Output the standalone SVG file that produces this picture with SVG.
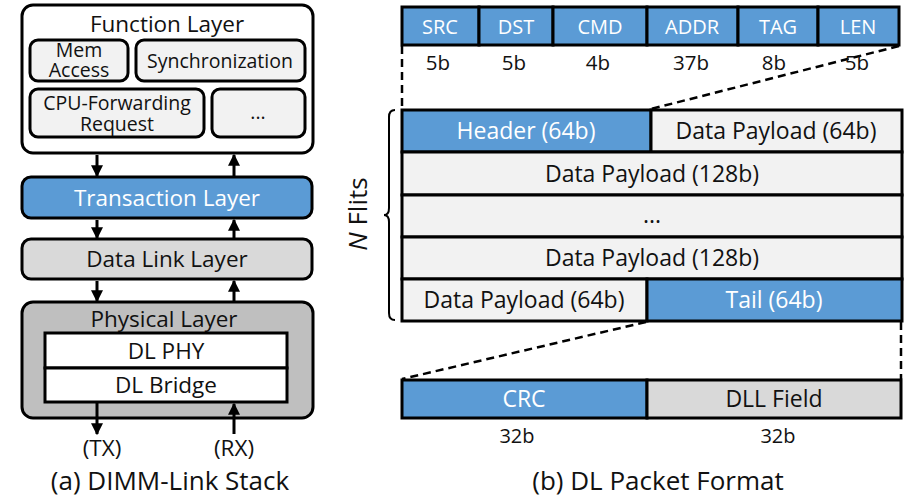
<svg xmlns="http://www.w3.org/2000/svg" width="909" height="499" viewBox="0 0 909 499">
  <defs>
    <marker id="ah" viewBox="0 0 10 10" refX="9" refY="5" markerWidth="4" markerHeight="4" orient="auto" markerUnits="strokeWidth">
      <path d="M0,0 L10,5 L0,10 Z" fill="#000"/>
    </marker>
  </defs>
  <style>
    text { font-family: "Open Sans", "Liberation Sans", sans-serif; fill: #111; text-anchor: middle; }
    .wt { fill: #fff; }
    .blue { fill: #5B9BD5; }
    .lite { fill: #F2F2F2; }
    .mid { fill: #D9D9D9; }
    .box { stroke: #000; stroke-width: 3; }
    .cell { stroke: #000; stroke-width: 3; }
    .arrow { stroke: #000; stroke-width: 3; fill: none; marker-end: url(#ah); }
    .dash { stroke: #000; stroke-width: 2.5; fill: none; stroke-dasharray: 8 5; }
    .sub { font-size: 19.5px; }
    .lay { font-size: 22.5px; }
    .fld { font-size: 20px; }
    .bits { font-size: 20.5px; }
    .pk { font-size: 23px; }
    .cap { font-size: 26px; }
  </style>
  <rect width="909" height="499" fill="#fff"/>

  <!-- (a) protocol stack -->
  <g id="function-layer">
    <rect x="22" y="5" width="291" height="148" rx="11" fill="#fff" class="box" stroke-width="3.5"/>
    <text x="167" y="32" class="lay">Function Layer</text>
  </g>
  <g id="mem-access">
    <rect x="30" y="40" width="98" height="41" rx="8" class="lite box"/>
    <text x="79" y="57" class="sub">Mem</text>
    <text x="79" y="77" class="sub">Access</text>
  </g>
  <g id="synchronization">
    <rect x="136" y="40" width="169" height="41" rx="8" class="lite box"/>
    <text x="220" y="68" class="sub">Synchronization</text>
  </g>
  <g id="cpu-forwarding">
    <rect x="30" y="89" width="174" height="48" rx="8" class="lite box"/>
    <text x="117" y="110" class="sub">CPU-Forwarding</text>
    <text x="117" y="131" class="sub">Request</text>
  </g>
  <g id="more-functions">
    <rect x="212" y="89" width="93" height="48" rx="8" class="lite box"/>
    <text x="258" y="119" class="sub">...</text>
  </g>
  <g id="transaction-layer">
    <rect x="22" y="177" width="290" height="41" rx="9" class="blue box"/>
    <text x="167" y="206" class="lay wt">Transaction Layer</text>
  </g>
  <g id="data-link-layer">
    <rect x="22" y="239" width="290" height="40" rx="9" class="mid box"/>
    <text x="167" y="267" class="lay">Data Link Layer</text>
  </g>
  <g id="physical-layer">
    <rect x="22" y="302" width="291" height="116" rx="11" fill="#BFBFBF" class="box" stroke-width="3.5"/>
    <text x="164" y="327" class="lay">Physical Layer</text>
  </g>
  <g id="dl-phy">
    <rect x="45" y="333" width="242" height="35" fill="#fff" class="box"/>
    <text x="166" y="359" class="lay">DL PHY</text>
  </g>
  <g id="dl-bridge">
    <rect x="45" y="368" width="242" height="34" fill="#fff" class="box"/>
    <text x="166" y="393" class="lay">DL Bridge</text>
  </g>
  <g id="tx-label"><text x="102" y="456" class="lay">(TX)</text></g>
  <g id="rx-label"><text x="234" y="456" class="lay">(RX)</text></g>

  <g id="connectors">
    <line x1="97" y1="155" x2="97" y2="176" class="arrow"/>
    <line x1="234" y1="176" x2="234" y2="155" class="arrow"/>
    <line x1="97" y1="220" x2="97" y2="238" class="arrow"/>
    <line x1="234" y1="238" x2="234" y2="220" class="arrow"/>
    <line x1="97" y1="281" x2="97" y2="301" class="arrow"/>
    <line x1="234" y1="301" x2="234" y2="281" class="arrow"/>
    <line x1="97" y1="403" x2="97" y2="434" class="arrow"/>
    <line x1="234" y1="434" x2="234" y2="404" class="arrow"/>
    <!-- zoom guides of the packet format -->
    <line x1="402" y1="46" x2="402" y2="109" class="dash"/>
    <line x1="899" y1="46" x2="651" y2="109" class="dash"/>
    <line x1="646" y1="322" x2="402" y2="379" class="dash"/>
    <line x1="901" y1="322" x2="901" y2="379" class="dash"/>
  </g>

  <text x="170" y="490" class="cap">(a) DIMM-Link Stack</text>

  <!-- (b) packet format: header fields -->
  <g id="header-fields">
    <rect x="402" y="7" width="77" height="38" class="blue cell"/>
    <rect x="479" y="7" width="74" height="38" class="blue cell"/>
    <rect x="553" y="7" width="94" height="38" class="blue cell"/>
    <rect x="647" y="7" width="91" height="38" class="blue cell"/>
    <rect x="738" y="7" width="80" height="38" class="blue cell"/>
    <rect x="818" y="7" width="81" height="38" class="blue cell"/>
    <text x="440" y="34" class="fld wt">SRC</text>
    <text x="516" y="34" class="fld wt">DST</text>
    <text x="600" y="34" class="fld wt">CMD</text>
    <text x="692" y="34" class="fld wt">ADDR</text>
    <text x="778" y="34" class="fld wt">TAG</text>
    <text x="858" y="34" class="fld wt">LEN</text>
    <text x="438" y="70" class="bits">5b</text>
    <text x="514" y="70" class="bits">5b</text>
    <text x="598" y="70" class="bits">4b</text>
    <text x="691" y="70" class="bits">37b</text>
    <text x="774" y="70" class="bits">8b</text>
    <text x="857" y="70" class="bits">5b</text>
  </g>

  <!-- flits -->
  <g id="flits">
    <rect x="402" y="110" width="249" height="42" class="blue cell"/>
    <rect x="651" y="110" width="251" height="42" class="lite cell"/>
    <rect x="402" y="152" width="500" height="43" class="lite cell"/>
    <rect x="402" y="195" width="500" height="42" class="lite cell"/>
    <rect x="402" y="237" width="500" height="42" class="lite cell"/>
    <rect x="402" y="279" width="245" height="42" class="lite cell"/>
    <rect x="647" y="279" width="255" height="42" class="blue cell"/>
    <text x="526" y="139" class="pk wt">Header (64b)</text>
    <text x="776" y="139" class="pk">Data Payload (64b)</text>
    <text x="652" y="182" class="pk">Data Payload (128b)</text>
    <text x="652" y="223" class="pk">...</text>
    <text x="652" y="266" class="pk">Data Payload (128b)</text>
    <text x="524" y="308" class="pk">Data Payload (64b)</text>
    <text x="774" y="308" class="pk wt">Tail (64b)</text>
  </g>

  <g id="n-flits">
    <path d="M395,110 Q389,110 389,117 L389,208 Q389,215 384,215 Q389,215 389,222 L389,313 Q389,320 395,320" fill="none" stroke="#000" stroke-width="2"/>
    <text transform="translate(367,214) rotate(-90)" class="cap"><tspan font-style="italic">N</tspan> Flits</text>
  </g>

  <!-- tail flit fields -->
  <g id="tail-fields">
    <rect x="402" y="380" width="245" height="38" class="blue cell"/>
    <rect x="647" y="380" width="254" height="38" class="mid cell"/>
    <text x="524" y="407" class="pk wt">CRC</text>
    <text x="774" y="407" class="pk">DLL Field</text>
    <text x="517" y="443" class="fld">32b</text>
    <text x="778" y="443" class="fld">32b</text>
  </g>

  <text x="658" y="490" class="cap">(b) DL Packet Format</text>
</svg>
